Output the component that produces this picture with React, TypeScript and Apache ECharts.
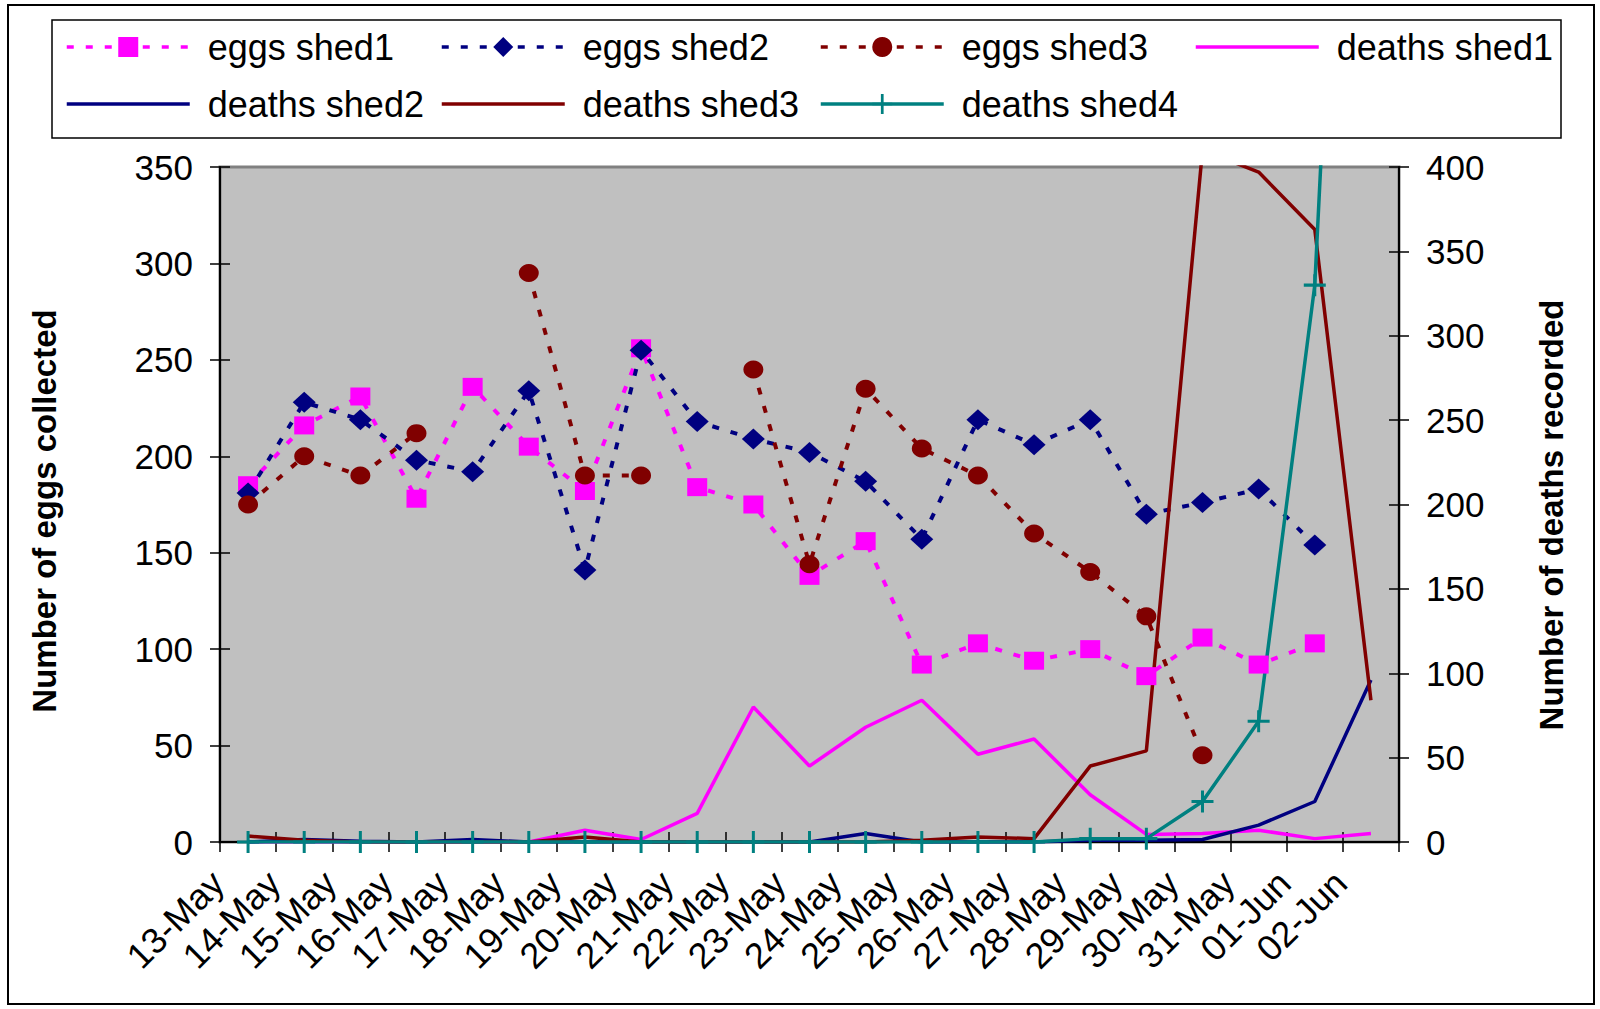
import React, { useEffect, useRef } from "react";
import * as echarts from "echarts";

const categories = [
  "13-May", "14-May", "15-May", "16-May", "17-May", "18-May", "19-May",
  "20-May", "21-May", "22-May", "23-May", "24-May", "25-May", "26-May",
  "27-May", "28-May", "29-May", "30-May", "31-May", "01-Jun", "02-Jun",
];

const eggsShed1 = [185, 216, 231, 178, 236, 205, 182, 256, 184, 175, 138, 156, 92, 103, 94, 100, 86, 106, 92, 103, null];
const eggsShed2 = [181, 228, 219, 198, 192, 234, 141, 255, 218, 209, 202, 187, 157, 219, 206, 219, 170, 176, 183, 154, null];
const eggsShed3 = [175, 200, 190, 212, null, 295, 190, 190, null, 245, 144, 235, 204, 190, 160, 140, 117, 45, null, null, null];

const deathsShed1 = [0, 0, 0, 0, 0, 0, 7, 1.5, 17, 80, 45, 68, 84, 52, 61, 28, 4.5, 5, 7, 2, 5];
const deathsShed2 = [0, 1.5, 0.5, 0, 1.5, 0, 0, 0, 0, 0, 0, 5, 0, 0, 0, 1, 1, 1.5, 10, 24, 96];
const deathsShed3 = [3.5, 1, 0, 0, 0, 0, 3, 0, 0, 0, 0, 0, 1, 3, 2, 45, 54, 410, 397, 363, 84];
const deathsShed4 = [0, 0, 0, 0, 0, 0, 0, 0, 0, 0, 0, 0, 0, 0, 0, 2, 2, 24, 71.5, 330, 1000];

const leftTicks = { min: 0, max: 350, interval: 50 };
const rightTicks = { min: 0, max: 400, interval: 50 };

const legendLayout = [
  { name: "eggs shed1", left: 65, top: 29, marker: true },
  { name: "eggs shed2", left: 440, top: 29, marker: true },
  { name: "eggs shed3", left: 819, top: 29, marker: true },
  { name: "deaths shed1", left: 1194, top: 29, marker: false },
  { name: "deaths shed2", left: 65, top: 86, marker: false },
  { name: "deaths shed3", left: 440, top: 86, marker: false },
  { name: "deaths shed4", left: 819, top: 86, marker: true },
];

const FONT = "Arial, 'Liberation Sans', sans-serif";
const PINK = "#FF00FF";
const NAVY = "#000080";
const MAROON = "#800000";
const TEAL = "#008080";
const PLUS = "path://M9.5,0 H12.5 V9.5 H22 V12.5 H12.5 V22 H9.5 V12.5 H0 V9.5 H9.5 Z";
const DOTTED = [7, 12];

export default function App() {
  const ref = useRef<HTMLDivElement>(null);

  useEffect(() => {
    if (!ref.current) return;
    const chart = echarts.init(ref.current, null, { renderer: "svg" });
    const tickLine = { color: "#000", width: 1.5 };

    const eggs = (name: string, data: any[], color: string, symbol: string, size: number[]) => ({
      name,
      type: "line",
      yAxisIndex: 0,
      data,
      symbol,
      symbolSize: size,
      showSymbol: true,
      showAllSymbol: true,
      connectNulls: false,
      lineStyle: { color, width: 4, type: DOTTED },
      itemStyle: { color, borderWidth: 0 },
      emphasis: { disabled: true },
    });
    const deaths = (name: string, data: number[], color: string, symbol: string, size: number[]) => ({
      name,
      type: "line",
      yAxisIndex: 1,
      data,
      symbol,
      symbolSize: size,
      showSymbol: symbol !== "none",
      showAllSymbol: true,
      lineStyle: { color, width: 3.5, type: "solid" },
      itemStyle: { color, borderWidth: 0 },
      emphasis: { disabled: true },
      clip: true,
    });

    const option: any = {
      animation: false,
      backgroundColor: "#fff",
      textStyle: { fontFamily: FONT },
      grid: {
        left: 220, top: 167, width: 1179, height: 675,
        show: true, backgroundColor: "#C0C0C0", borderColor: "#808080", borderWidth: 3,
        containLabel: false,
      },
      legend: legendLayout.map((l) => ({
        data: [l.name],
        left: l.left,
        top: l.top,
        orient: "horizontal",
        padding: 0,
        itemWidth: 123,
        itemHeight: 25,
        selectedMode: false,
        lineStyle: { width: 3.5 },
        itemStyle: l.marker ? {} : { opacity: 0 },
        textStyle: { fontSize: 36, fontFamily: FONT, color: "#000", padding: [0, 0, 0, 13] },
      })),
      xAxis: [
        {
          type: "category",
          data: categories,
          position: "bottom",
          boundaryGap: true,
          axisLine: { show: true, lineStyle: { color: "#000", width: 2 } },
          axisTick: { show: true, interval: 0, length: 10, lineStyle: tickLine },
          axisLabel: {
            interval: 0, rotate: 45, fontSize: 36, fontFamily: FONT, color: "#000",
            margin: 30, align: "right", verticalAlign: "bottom", padding: [0, 25, 0, 0],
          },
          splitLine: { show: false },
        },
        {
          type: "category",
          data: categories,
          position: "bottom",
          boundaryGap: true,
          axisLine: { show: false },
          axisTick: { show: true, inside: true, interval: 0, length: 10, lineStyle: tickLine },
          axisLabel: { show: false },
          splitLine: { show: false },
        },
      ],
      yAxis: [
        {
          type: "value", position: "left", ...leftTicks,
          axisLine: { show: true, lineStyle: { color: "#000", width: 2 } },
          axisTick: { show: true, length: 10, lineStyle: tickLine },
          axisLabel: { fontSize: 35, fontFamily: FONT, color: "#000", margin: 27 },
          splitLine: { show: false },
        },
        {
          type: "value", position: "right", ...rightTicks,
          axisLine: { show: true, lineStyle: { color: "#000", width: 2 } },
          axisTick: { show: true, length: 10, lineStyle: tickLine },
          axisLabel: { fontSize: 35, fontFamily: FONT, color: "#000", margin: 27 },
          splitLine: { show: false },
        },
        {
          type: "value", position: "left", ...leftTicks,
          axisLine: { show: false },
          axisTick: { show: true, inside: true, length: 10, lineStyle: tickLine },
          axisLabel: { show: false },
          splitLine: { show: false },
        },
        {
          type: "value", position: "right", ...rightTicks,
          axisLine: { show: false },
          axisTick: { show: true, inside: true, length: 10, lineStyle: tickLine },
          axisLabel: { show: false },
          splitLine: { show: false },
        },
      ],
      series: [
        eggs("eggs shed1", eggsShed1, PINK, "rect", [20, 18]),
        eggs("eggs shed2", eggsShed2, NAVY, "diamond", [23, 21]),
        eggs("eggs shed3", eggsShed3, MAROON, "circle", [20, 18]),
        deaths("deaths shed1", deathsShed1, PINK, "none", [0, 0]),
        deaths("deaths shed2", deathsShed2, NAVY, "none", [0, 0]),
        deaths("deaths shed3", deathsShed3, MAROON, "none", [0, 0]),
        deaths("deaths shed4", deathsShed4, TEAL, PLUS, [22, 22]),
      ],
      graphic: [
        {
          type: "rect",
          shape: { x: 8, y: 5, width: 1586, height: 999 },
          style: { fill: "none", stroke: "#000", lineWidth: 2 },
          silent: true,
        },
        {
          type: "rect",
          shape: { x: 52, y: 20, width: 1509, height: 118 },
          style: { fill: "none", stroke: "#000", lineWidth: 1.5 },
          silent: true,
        },
        {
          type: "text",
          x: 44, y: 511,
          rotation: Math.PI / 2,
          style: {
            text: "Number of eggs collected",
            fontSize: 33, fontWeight: "bold", fontFamily: FONT, fill: "#000",
            align: "center", verticalAlign: "middle",
            textAlign: "center", textVerticalAlign: "middle",
          },
          silent: true,
        },
        {
          type: "text",
          x: 1551, y: 515,
          rotation: Math.PI / 2,
          style: {
            text: "Number of deaths recorded",
            fontSize: 33, fontWeight: "bold", fontFamily: FONT, fill: "#000",
            align: "center", verticalAlign: "middle",
            textAlign: "center", textVerticalAlign: "middle",
          },
          silent: true,
        },
      ],
    };

    chart.setOption(option);
    return () => chart.dispose();
  }, []);

  return (
    <div
      ref={ref}
      style={{ position: "fixed", left: 0, top: 0, width: 1600, height: 1009, background: "#fff" }}
    />
  );
}
